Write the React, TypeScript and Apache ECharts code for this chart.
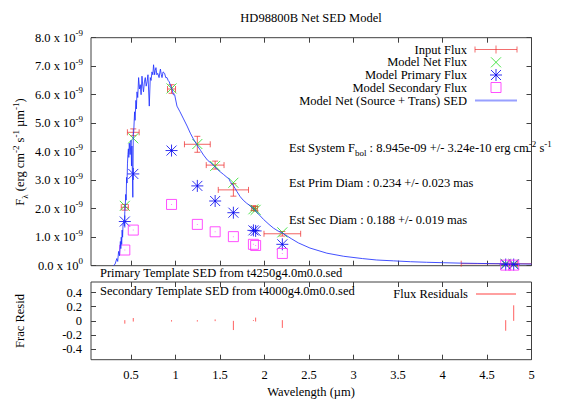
import React, { useEffect, useRef } from 'react';
import * as echarts from 'echarts';

// ---- data (flux values in units of 1e-9 erg cm^-2 s^-1 µm^-1) ----
const wavelengths = [0.43, 0.525, 0.955, 1.245, 1.445, 1.65, 1.875, 1.9, 2.2, 4.71, 4.8];
const inputFlux = [2.05, 4.68, 6.2, 4.26, 3.53, 2.66, 2.02, 2.0, 1.12, 0.07, 0.06];
const inputFluxErr = [0.1, 0.12, 0.15, 0.28, 0.14, 0.22, 0.08, 0.08, 0.08, 0.01, 0.01];
const bandHalfWidth = [0.04, 0.066, 0.045, 0.145, 0.1, 0.17, 0.02, 0.02, 0.206, 0.5, 0.04];
const modelNet = [2.1, 4.47, 6.22, 4.27, 3.5, 2.91, 1.98, 1.96, 1.17, 0.07, 0.06];
const modelPrimary = [1.55, 3.22, 4.04, 2.8, 2.27, 1.86, 1.24, 1.22, 0.75, 0.04, 0.04];
const modelSecondary = [0.55, 1.25, 2.15, 1.45, 1.19, 1.02, 0.75, 0.71, 0.43, 0.02, 0.02];
const residual = [-0.015, 0.015, 0, 0, 0.008, -0.065, 0.005, 0.018, -0.045, -0.065, 0.11];
const residualErr = [0.025, 0.025, 0.01, 0.01, 0.012, 0.065, 0.006, 0.028, 0.055, 0.075, 0.11];

const sedWave = [0.3, 0.32, 0.34, 0.35, 0.36, 0.37, 0.38, 0.385, 0.39, 0.395, 0.4, 0.405, 0.41, 0.42, 0.425, 0.43, 0.435, 0.44, 0.445, 0.45, 0.455, 0.46, 0.465, 0.47, 0.475, 0.48, 0.49, 0.5, 0.505, 0.51, 0.52, 0.525, 0.53, 0.54, 0.545, 0.555, 0.56, 0.567, 0.575, 0.585, 0.595, 0.604, 0.613, 0.623, 0.632, 0.64, 0.65, 0.66, 0.67, 0.68, 0.69, 0.705, 0.716, 0.725, 0.735, 0.745, 0.753, 0.765, 0.772, 0.78, 0.79, 0.8, 0.815, 0.83, 0.84, 0.848, 0.86, 0.877, 0.89, 0.904, 0.917, 0.93, 0.945, 0.96, 0.975, 0.99, 1.016, 1.05, 1.09, 1.13, 1.166, 1.2, 1.24, 1.28, 1.315, 1.36, 1.4, 1.43, 1.47, 1.5, 1.54, 1.578, 1.6, 1.615, 1.652, 1.69, 1.727, 1.76, 1.8, 1.84, 1.877, 1.93, 1.99, 2.05, 2.1, 2.15, 2.21, 2.3, 2.38, 2.51, 2.7, 2.89, 3.1, 3.26, 3.45, 3.64, 3.82, 4.01, 4.2, 4.39, 4.6, 4.8, 4.95, 5.0];
const sedFlux = [0.0, 0.05, 0.25, 0.15, 0.5, 0.35, 0.85, 0.6, 1.0, 0.75, 1.25, 1.0, 1.45, 1.6, 1.4, 1.9, 2.1, 2.5, 2.3, 3.1, 2.9, 3.6, 3.9, 4.1, 3.8, 4.3, 3.9, 4.4, 3.5, 4.2, 2.4, 4.6, 4.7, 5.4, 5.1, 5.8, 5.5, 6.1, 5.9, 6.6, 6.2, 6.35, 6.0, 6.65, 6.3, 6.1, 6.45, 6.6, 6.3, 6.45, 6.7, 5.6, 6.6, 6.5, 6.8, 6.7, 7.05, 6.7, 6.85, 6.95, 6.7, 6.75, 6.6, 6.9, 6.7, 6.6, 6.8, 6.75, 6.6, 6.6, 6.5, 6.45, 6.3, 6.2, 6.0, 6.0, 5.6, 5.4, 5.15, 4.9, 4.65, 4.45, 4.24, 4.05, 3.88, 3.7, 3.6, 3.5, 3.38, 3.3, 3.2, 3.1, 3.05, 2.95, 2.8, 2.6, 2.42, 2.3, 2.19, 2.1, 2.0, 1.82, 1.62, 1.45, 1.32, 1.22, 1.13, 0.95, 0.8, 0.62, 0.44, 0.33, 0.25, 0.2, 0.17, 0.14, 0.12, 0.105, 0.09, 0.08, 0.07, 0.065, 0.06, 0.058];

const xTicks = [0.5, 1, 1.5, 2, 2.5, 3, 3.5, 4, 4.5, 5];
const fluxTicks = [0, 1, 2, 3, 4, 5, 6, 7, 8];
const residTicks = [-0.4, -0.2, 0, 0.2, 0.4];

const FONT = 'Liberation Serif, DejaVu Serif, serif';
const FS = 12.5;
const RED = '#ee3030';
const GREEN = '#22dd22';
const BLUE = '#0000ee';
const MAGENTA = '#ff33ff';
const SEDBLUE = '#2233ff';
const AXIS = '#404040';

const rich = {
  a: { fontFamily: FONT, fontSize: FS, color: '#000', lineHeight: 18 },
  sup: { fontFamily: FONT, fontSize: 9, color: '#000', verticalAlign: 'top', lineHeight: 10 },
  sub: { fontFamily: FONT, fontSize: 9, color: '#000', verticalAlign: 'bottom', lineHeight: 10 },
};

function clamp(v: number, lo: number, hi: number) {
  return Math.max(lo, Math.min(hi, v));
}

function line(x1: number, y1: number, x2: number, y2: number, stroke: string, opacity = 1, lw = 1) {
  return { type: 'line', shape: { x1, y1, x2, y2 }, style: { stroke, lineWidth: lw, opacity } };
}

function renderErrBar(params: any, api: any) {
  const cs = params.coordSys;
  const x = api.value(0), y = api.value(1), xe = api.value(2), ye = api.value(3);
  const c = api.coord([x, y]);
  const lRaw = api.coord([x - xe, y])[0];
  const rRaw = api.coord([x + xe, y])[0];
  const l = clamp(lRaw, cs.x, cs.x + cs.width);
  const r = clamp(rRaw, cs.x, cs.x + cs.width);
  const t = clamp(api.coord([x, y + ye])[1], cs.y, cs.y + cs.height);
  const b = clamp(api.coord([x, y - ye])[1], cs.y, cs.y + cs.height);
  const cap = 3;
  const op = 0.75;
  const ch: any[] = [
    line(l, c[1], r, c[1], RED, op),
    line(c[0], t, c[0], b, RED, op),
    line(c[0] - cap, t, c[0] + cap, t, RED, op),
    line(c[0] - cap, b, c[0] + cap, b, RED, op),
  ];
  if (lRaw === l) ch.push(line(l, c[1] - cap, l, c[1] + cap, RED, op));
  if (rRaw === r) ch.push(line(r, c[1] - cap, r, c[1] + cap, RED, op));
  return { type: 'group', children: ch };
}

function renderCross(params: any, api: any) {
  const c = api.coord([api.value(0), api.value(1)]);
  const s = 5;
  return {
    type: 'group',
    children: [
      line(c[0] - s, c[1] - s, c[0] + s, c[1] + s, GREEN, 0.8),
      line(c[0] - s, c[1] + s, c[0] + s, c[1] - s, GREEN, 0.8),
    ],
  };
}

function renderStar(params: any, api: any) {
  const c = api.coord([api.value(0), api.value(1)]);
  const s = 5;
  return {
    type: 'group',
    children: [
      line(c[0] - s, c[1] - s, c[0] + s, c[1] + s, BLUE, 0.8),
      line(c[0] - s, c[1] + s, c[0] + s, c[1] - s, BLUE, 0.8),
      line(c[0] - s - 1, c[1], c[0] + s + 1, c[1], BLUE, 0.8),
      line(c[0], c[1] - s - 1, c[0], c[1] + s + 1, BLUE, 0.8),
    ],
  };
}

function renderSquare(params: any, api: any) {
  const c = api.coord([api.value(0), api.value(1)]);
  const s = 5;
  return {
    type: 'group',
    children: [
      { type: 'rect', shape: { x: c[0] - s, y: c[1] - s, width: 2 * s, height: 2 * s }, style: { fill: 'none', stroke: MAGENTA, lineWidth: 1, opacity: 0.85 } },
      { type: 'rect', shape: { x: c[0] - 0.5, y: c[1] - 0.5, width: 1, height: 1 }, style: { fill: MAGENTA, opacity: 0.6 } },
    ],
  };
}

function renderResid(params: any, api: any) {
  const x = api.value(0), y = api.value(1), e = api.value(2);
  const t = api.coord([x, y + e]);
  const b = api.coord([x, y - e]);
  return { type: 'group', children: [line(t[0], t[1], b[0], b[1], '#ff5050', 0.9)] };
}

function buildOption() {
  const errData = wavelengths.map((w, i) => [w, inputFlux[i], bandHalfWidth[i], inputFluxErr[i]]);
  const netData = wavelengths.map((w, i) => [w, modelNet[i]]);
  const primData = wavelengths.map((w, i) => [w, modelPrimary[i]]);
  const secData = wavelengths.map((w, i) => [w, modelSecondary[i]]);
  const residData = wavelengths.map((w, i) => [w, residual[i], residualErr[i]]);
  const sedData = sedWave.map((w, i) => [w, sedFlux[i]]);

  const tickCommon = { show: true, inside: true, length: 5, lineStyle: { color: AXIS, width: 1 } };
  const hiddenLine = { show: false, onZero: false };

  const xBase = (gridIndex: number, position: string, labels: boolean) => ({
    type: 'value',
    gridIndex,
    position,
    min: 0.05,
    max: 5,
    axisLine: hiddenLine,
    splitLine: { show: false },
    axisTick: { ...tickCommon, customValues: xTicks },
    axisLabel: labels
      ? { show: true, customValues: xTicks, margin: 9, fontFamily: FONT, fontSize: FS, color: '#000' }
      : { show: false, customValues: xTicks },
  });

  const fluxLabel = (v: number) => `{a|${v.toFixed(1)} x 10}{sup|${v === 0 ? '0' : '-9'}}`;

  const yFlux = (position: string, labels: boolean) => ({
    type: 'value',
    gridIndex: 0,
    position,
    min: 0,
    max: 8,
    axisLine: hiddenLine,
    splitLine: { show: false },
    axisTick: { ...tickCommon, customValues: fluxTicks },
    axisLabel: labels
      ? { show: true, customValues: fluxTicks, margin: 8, formatter: fluxLabel, rich }
      : { show: false, customValues: fluxTicks },
  });

  const yResid = (position: string, labels: boolean) => ({
    type: 'value',
    gridIndex: 1,
    position,
    min: -0.55,
    max: 0.55,
    axisLine: hiddenLine,
    splitLine: { show: false },
    axisTick: { ...tickCommon, customValues: residTicks },
    axisLabel: labels
      ? { show: true, customValues: residTicks, margin: 9, fontFamily: FONT, fontSize: FS, color: '#000', formatter: (v: number) => `${Math.round(v * 10) / 10}` }
      : { show: false, customValues: residTicks },
  });

  const txt = (x: number, y: number, text: string, align = 'left', extra: any = {}) => ({
    type: 'text',
    x,
    y,
    z: 100,
    ...extra,
    style: { text, align, verticalAlign: 'middle', rich, font: `${FS}px ${FONT}`, fill: '#000' },
  });

  const legendX = 467;
  const symX = 496;
  const legendRows = [49.5, 62.3, 75, 87.5, 100.5];
  const legendTexts = ['Input Flux', 'Model Net Flux', 'Model Primary Flux', 'Model Secondary Flux', 'Model Net (Source + Trans) SED'];

  const gl = (x1: number, y1: number, x2: number, y2: number, stroke: string, op = 0.8, lw = 1) => ({
    type: 'line', z: 100, shape: { x1, y1, x2, y2 }, style: { stroke, lineWidth: lw, opacity: op },
  });

  const r0 = legendRows[0], r1 = legendRows[1], r2 = legendRows[2], r3 = legendRows[3], r4 = legendRows[4];
  const graphic: any[] = [
    txt(311, 18, 'HD98800B Net SED Model', 'center'),
    txt(20, 152, '{a|F}{sub|λ}{a| (erg cm}{sup|-2}{a| s}{sup|-1}{a| µm}{sup|-1}{a|)}', 'center', { rotation: Math.PI / 2 }),
    txt(20, 321, 'Frac Resid', 'center', { rotation: Math.PI / 2 }),
    txt(311, 392, 'Wavelength (µm)', 'center'),
    txt(289, 148, '{a|Est System F}{sub|bol}{a| : 8.945e-09 +/- 3.24e-10 erg cm}{sup|-2}{a| s}{sup|-1}'),
    txt(289, 183, 'Est Prim Diam : 0.234 +/- 0.023 mas'),
    txt(289, 220, 'Est Sec Diam : 0.188 +/- 0.019 mas'),
    txt(100, 273, 'Primary Template SED from t4250g4.0m0.0.sed'),
    txt(100, 291, 'Secondary Template SED from t4000g4.0m0.0.sed'),
    ...legendTexts.map((t, i) => txt(legendX, legendRows[i], t, 'right')),
    // Input flux legend glyph
    gl(475, r0, 517, r0, RED, 0.7),
    gl(475, r0 - 3, 475, r0 + 3, RED, 0.7),
    gl(517, r0 - 3, 517, r0 + 3, RED, 0.7),
    gl(symX, r0 - 4, symX, r0 + 4, RED, 0.7),
    // cross
    gl(symX - 5, r1 - 5, symX + 5, r1 + 5, GREEN),
    gl(symX - 5, r1 + 5, symX + 5, r1 - 5, GREEN),
    // star
    gl(symX - 5, r2 - 5, symX + 5, r2 + 5, BLUE),
    gl(symX - 5, r2 + 5, symX + 5, r2 - 5, BLUE),
    gl(symX - 6, r2, symX + 6, r2, BLUE),
    gl(symX, r2 - 6, symX, r2 + 6, BLUE),
    // square
    { type: 'rect', z: 100, shape: { x: symX - 5, y: r3 - 5, width: 10, height: 10 }, style: { fill: 'none', stroke: MAGENTA, lineWidth: 1, opacity: 0.85 } },
    // SED line
    gl(475, r4, 517, r4, '#98a0ff', 1, 2),
    // residual legend
    txt(468, 294, 'Flux Residuals', 'right'),
    gl(476, 294, 516, 294, '#ff8080', 1, 1.5),
  ];

  return {
    animation: false,
    backgroundColor: '#fff',
    grid: [
      { left: 91, top: 37.7, width: 440.5, height: 228, show: true, borderColor: AXIS, borderWidth: 1, backgroundColor: 'transparent', outerBoundsMode: 'none' },
      { left: 91, top: 282, width: 440.5, height: 77.7, show: true, borderColor: AXIS, borderWidth: 1, backgroundColor: 'transparent', outerBoundsMode: 'none' },
    ],
    xAxis: [xBase(0, 'bottom', false), xBase(0, 'top', false), xBase(1, 'bottom', true), xBase(1, 'top', false)],
    yAxis: [yFlux('left', true), yFlux('right', false), yResid('left', true), yResid('right', false)],
    series: [
      { type: 'custom', name: 'Input Flux', xAxisIndex: 0, yAxisIndex: 0, renderItem: renderErrBar, data: errData, encode: { x: 0, y: 1 }, z: 2 },
      { type: 'custom', name: 'Model Net Flux', xAxisIndex: 0, yAxisIndex: 0, renderItem: renderCross, data: netData, encode: { x: 0, y: 1 }, z: 3 },
      { type: 'custom', name: 'Model Primary Flux', xAxisIndex: 0, yAxisIndex: 0, renderItem: renderStar, data: primData, encode: { x: 0, y: 1 }, z: 4 },
      { type: 'custom', name: 'Model Secondary Flux', xAxisIndex: 0, yAxisIndex: 0, renderItem: renderSquare, data: secData, encode: { x: 0, y: 1 }, z: 5 },
      {
        type: 'line', name: 'Model Net (Source + Trans) SED', xAxisIndex: 0, yAxisIndex: 0, data: sedData, showSymbol: false, symbol: 'none',
        lineStyle: { color: SEDBLUE, width: 1, opacity: 0.85 }, z: 6, clip: true,
      },
      { type: 'custom', name: 'Flux Residuals', xAxisIndex: 2, yAxisIndex: 2, renderItem: renderResid, data: residData, encode: { x: 0, y: 1 }, z: 3 },
    ],
    graphic,
  };
}

export default function App() {
  const ref = useRef<HTMLDivElement>(null);
  useEffect(() => {
    if (!ref.current) return;
    const chart = echarts.init(ref.current, undefined, { renderer: 'svg' });
    chart.setOption(buildOption() as any);
    return () => chart.dispose();
  }, []);
  return <div ref={ref} style={{ position: 'fixed', left: 0, top: 0, width: 569, height: 399, background: '#fff' }} />;
}
